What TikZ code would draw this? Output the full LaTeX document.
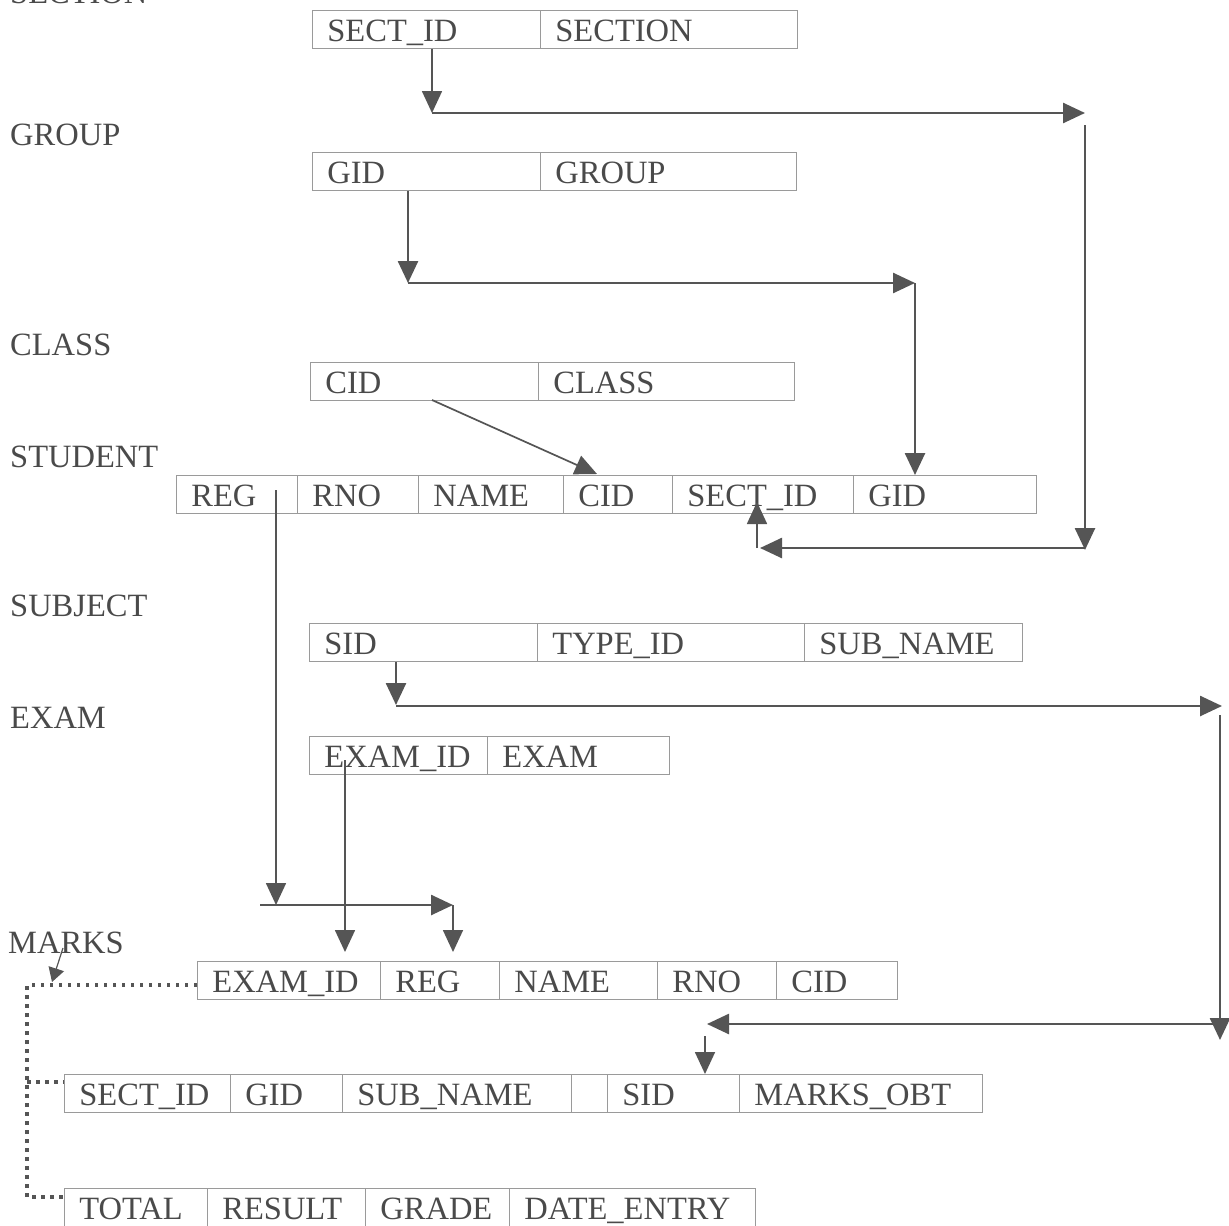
\documentclass[tikz,border=0pt]{standalone}
\usepackage{fontspec}
\setmainfont{Liberation Serif}
\usetikzlibrary{arrows.meta}
\definecolor{txt}{HTML}{4A4A4A}
\definecolor{boxc}{HTML}{9A9A9A}
\definecolor{arr}{HTML}{555555}
\begin{document}
\begin{tikzpicture}[x=1pt,y=-1pt,
  cell/.style={draw=boxc,line width=0.8pt,minimum height=38pt,inner xsep=15pt,inner ysep=5pt,text height=26pt,text depth=2pt,anchor=north west,align=left,text=txt,font=\fontsize{32.5}{34}\selectfont},
  lbl/.style={anchor=base west,inner sep=0pt,text=txt,font=\fontsize{32.5}{34}\selectfont},
  conn/.style={draw=arr,line width=2.6pt,-{Triangle[length=22pt,width=20pt]}},
  thinconn/.style={draw=arr,line width=1.7pt,-{Triangle[length=22pt,width=20pt]}},
  smallconn/.style={draw=arr,line width=1.2pt,-{Triangle[length=14pt,width=16pt]}},
  dots/.style={draw=arr,line width=3.5pt,dash pattern=on 3.5pt off 5.5pt}]
\fill[white] (0,0) rectangle (1229,1226);
\useasboundingbox (0,0) rectangle (1229,1226);

% labels
\node[lbl] (lsection) at (10,4) {SECTION};
\node[lbl] (lgroup) at (10,145) {GROUP};
\node[lbl] (lclass) at (10,355) {CLASS};
\node[lbl] (lstudent) at (10,467) {STUDENT};
\node[lbl] (lsubject) at (10,616) {SUBJECT};
\node[lbl] (lexam) at (10,728) {EXAM};
\node[lbl] (lmarks) at (8,953) {MARKS};

% SECTION
\node[cell,text width=198pt] (sec1) at (312,10) {SECT\_ID};
\node[cell,text width=227pt] (sec2) at (540,10) {SECTION};
% GROUP
\node[cell,text width=198pt] (grp1) at (312,152) {GID};
\node[cell,text width=226pt] (grp2) at (540,152) {GROUP};
% CLASS
\node[cell,text width=198pt] (cls1) at (310,362) {CID};
\node[cell,text width=226pt] (cls2) at (538,362) {CLASS};
% STUDENT
\node[cell,text width=91pt] (st1) at (176,475) {REG};
\node[cell,text width=91pt] (st2) at (297,475) {RNO};
\node[cell,text width=115pt] (st3) at (418,475) {NAME};
\node[cell,text width=79pt] (st4) at (563,475) {CID};
\node[cell,text width=151pt] (st5) at (672,475) {SECT\_ID};
\node[cell,text width=153pt] (st6) at (853,475) {GID};
% SUBJECT
\node[cell,text width=198pt] (sub1) at (309,623) {SID};
\node[cell,text width=237pt] (sub2) at (537,623) {TYPE\_ID};
\node[cell,text width=188pt] (sub3) at (804,623) {SUB\_NAME};
% EXAM
\node[cell,text width=148pt] (ex1) at (309,736) {EXAM\_ID};
\node[cell,text width=152pt] (ex2) at (487,736) {EXAM};
% MARKS row 1
\node[cell,text width=153pt] (m1a) at (197,961) {EXAM\_ID};
\node[cell,text width=89pt] (m1b) at (380,961) {REG};
\node[cell,text width=128pt] (m1c) at (499,961) {NAME};
\node[cell,text width=89pt] (m1d) at (657,961) {RNO};
\node[cell,text width=91pt] (m1e) at (776,961) {CID};
% MARKS row 2
\node[cell,text width=136pt] (m2a) at (64,1074) {SECT\_ID};
\node[cell,text width=82pt] (m2b) at (230,1074) {GID};
\node[cell,text width=199pt] (m2c) at (342,1074) {SUB\_NAME};
\node[cell,text width=6pt] (m2d) at (571,1074) {};
\node[cell,text width=102pt] (m2e) at (607,1074) {SID};
\node[cell,text width=213pt] (m2f) at (739,1074) {MARKS\_OBT};
% MARKS row 3
\node[cell,text width=113pt] (m3a) at (64,1188) {TOTAL};
\node[cell,text width=128pt] (m3b) at (207,1188) {RESULT};
\node[cell,text width=114pt] (m3c) at (365,1188) {GRADE};
\node[cell,text width=216pt] (m3d) at (509,1188) {DATE\_ENTRY};

% SECT_ID connector
\coordinate (a1) at (432,113);
\coordinate (a2) at (1085,113);
\coordinate (a3) at (1085,125);
\coordinate (a4) at (1085,550);
\coordinate (a5) at (1085,548);
\coordinate (a6) at (760,548);
\coordinate (a7) at (757,548);
\coordinate (a8) at (757,502);
\draw[thinconn] (a1 |- sec1.south) -- (a1);
\draw[conn] (a1) -- (a2);
\draw[conn] (a3) -- (a4);
\draw[conn] (a5) -- (a6);
\draw[thinconn] (a7) -- (a8);

% GID connector
\coordinate (b1) at (408,283);
\coordinate (b2) at (915,283);
\draw[conn] (b1 |- grp1.south) -- (b1);
\draw[conn] (b1) -- (b2);
\draw[conn] (b2) -- (b2 |- st6.north);

% CID connector
\coordinate (c1) at (432,400);
\coordinate (c2) at (597,474);
\draw[thinconn] (c1) -- (c2);

% REG connector
\coordinate (d1) at (276,490);
\coordinate (d2) at (276,905);
\coordinate (d3) at (260,905);
\coordinate (d4) at (453,905);
\coordinate (d5) at (453,952);
\draw[thinconn] (d1) -- (d2);
\draw[conn] (d3) -- (d4);
\draw[thinconn] (d4) -- (d5);

% EXAM_ID connector
\coordinate (e1) at (345,760);
\coordinate (e2) at (345,952);
\draw[thinconn] (e1) -- (e2);

% SID connector
\coordinate (f1) at (396,705);
\coordinate (f2) at (396,706);
\coordinate (f3) at (1222,706);
\coordinate (f4) at (1220,715);
\coordinate (f5) at (1220,1040);
\coordinate (f6) at (1220,1024);
\coordinate (f7) at (707,1024);
\coordinate (f8) at (705,1036);
\draw[conn] (f1 |- sub1.south) -- (f1);
\draw[conn] (f2) -- (f3);
\draw[conn] (f4) -- (f5);
\draw[conn] (f6) -- (f7);
\draw[thinconn] (f8) -- (f8 |- m2e.north);

% MARKS pointer
\coordinate (g1) at (63,948);
\coordinate (g2) at (52,982);
\draw[smallconn] (g1) -- (g2);

% dotted link
\coordinate (h1) at (27,985);
\coordinate (h2) at (27,1082);
\coordinate (h3) at (27,1197);
\draw[dots] (m1a.west |- h1) -- (h1) -- (h3) -- (h3 -| m3a.west);
\draw[dots] (h2) -- (h2 -| m2a.west);
\end{tikzpicture}
\end{document}
